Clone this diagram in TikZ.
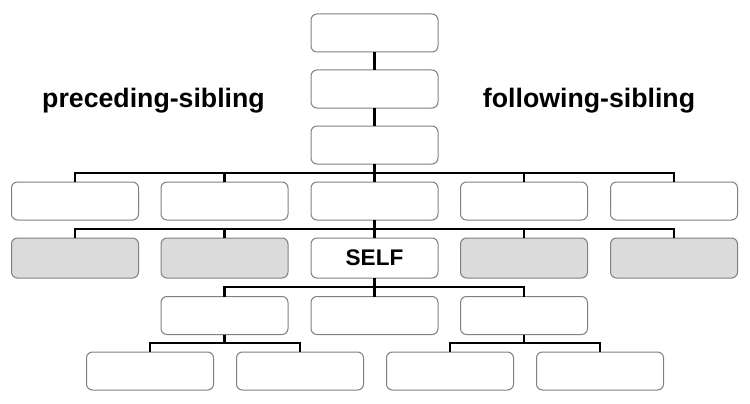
\documentclass[tikz,border=0pt]{standalone}
\usepackage{fontspec}
\setmainfont{Liberation Sans}
\begin{document}
\begin{tikzpicture}[x=1pt,y=-1pt,
  box/.style={draw=black!50, line width=1pt, rounded corners=6pt, fill=white,
    minimum width=127pt, minimum height=38pt, inner sep=0pt, outer sep=0pt},
  graybox/.style={box, fill=black!14, minimum height=40pt},
  selfbox/.style={box, minimum height=40pt},
  conn/.style={draw=black, line width=2.6pt},
  lbl/.style={font=\bfseries\fontsize{26.7}{32}\selectfont, anchor=base, inner sep=0pt}]
\useasboundingbox (0,0) rectangle (750,404);
% top chain
\node[box] (t1) at (374.5,33) {};
\node[box] (t2) at (374.5,89) {};
\node[box] (t3) at (374.5,145) {};
% row 4
\node[box] (r4a) at (75,201) {};
\node[box] (r4b) at (224.5,201) {};
\node[box] (r4c) at (374.5,201) {};
\node[box] (r4d) at (524,201) {};
\node[box] (r4e) at (674,201) {};
% row 5
\node[graybox] (r5a) at (75,258) {};
\node[graybox] (r5b) at (224.5,258) {};
\node[selfbox, font=\bfseries\fontsize{22.6}{27}\selectfont] (self) at (374.5,258) {SELF};
\node[graybox] (r5d) at (524,258) {};
\node[graybox] (r5e) at (674,258) {};
% row 6
\node[box] (r6a) at (224.5,315.5) {};
\node[box] (r6b) at (374.5,315.5) {};
\node[box] (r6c) at (524,315.5) {};
% row 7
\node[box] (r7a) at (150,371) {};
\node[box] (r7b) at (300,371) {};
\node[box] (r7c) at (450,371) {};
\node[box] (r7d) at (600,371) {};
% labels
\node[lbl] (pre) at (153.5,107) {preceding-sibling};
\node[lbl] (fol) at (589,107) {following-sibling};
% bus coordinates
\coordinate (bus1) at (374.5,173);
\coordinate (bus2) at (374.5,229);
\coordinate (bus3) at (374.5,287);
\coordinate (bus4) at (224.5,343);
\coordinate (bus5) at (524,343);
% connectors
\draw[conn] (t1) -- (t2);
\draw[conn] (t2) -- (t3);
\draw[conn] (t3.south) -- (r4c.north);
\draw[conn] (r4a.north) |- (r4e.north |- bus1) -- (r4e.north);
\draw[conn] (r4b.north) -- (r4b.north |- bus1);
\draw[conn] (r4d.north) -- (r4d.north |- bus1);
\draw[conn] (r4c.south) -- (self.north);
\draw[conn] (r5a.north) |- (r5e.north |- bus2) -- (r5e.north);
\draw[conn] (r5b.north) -- (r5b.north |- bus2);
\draw[conn] (r5d.north) -- (r5d.north |- bus2);
\draw[conn] (self.south) -- (r6b.north);
\draw[conn] (r6a.north) |- (r6c.north |- bus3) -- (r6c.north);
\draw[conn] (r6a.south) -- (bus4);
\draw[conn] (r7a.north) |- (r7b.north |- bus4) -- (r7b.north);
\draw[conn] (r6c.south) -- (bus5);
\draw[conn] (r7c.north) |- (r7d.north |- bus5) -- (r7d.north);
\end{tikzpicture}
\end{document}
